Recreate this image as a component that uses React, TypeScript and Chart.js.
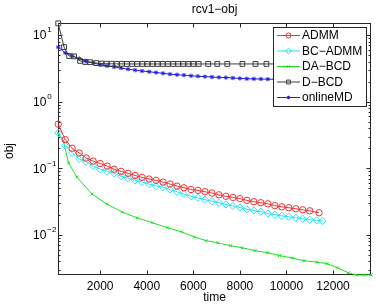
import React, { useEffect, useRef } from 'react';
import { Chart, registerables } from 'chart.js';
import { drawPoint } from 'chart.js/helpers';

Chart.register(...registerables);

// ---- data ----
const seriesNames = ['ADMM', 'BC\u2212ADMM', 'DA\u2212BCD', 'D\u2212BCD', 'onlineMD'];

const admmTime = [200, 500, 800, 1100, 1400, 1700, 2000, 2300, 2600, 2900, 3200, 3500, 3800, 4100, 4400, 4700, 5000, 5300, 5600, 5900, 6200, 6500, 6800, 7100, 7400, 7700, 8000, 8300, 8600, 8900, 9200, 9500, 9800, 10100, 10400, 10700, 11000, 11400];
const admmObj = [0.46, 0.27, 0.2, 0.17, 0.143, 0.128, 0.118, 0.108, 0.097, 0.09, 0.084, 0.078, 0.073, 0.069, 0.066, 0.062, 0.058, 0.054, 0.051, 0.048, 0.0466, 0.0445, 0.0425, 0.04, 0.038, 0.0365, 0.0351, 0.033, 0.0315, 0.0304, 0.0293, 0.0275, 0.0264, 0.0256, 0.0247, 0.0238, 0.023, 0.0215];

const bcAdmmTime = [200, 500, 800, 1100, 1400, 1700, 2000, 2300, 2600, 2900, 3200, 3500, 3800, 4100, 4400, 4700, 5000, 5300, 5600, 5900, 6200, 6500, 6800, 7100, 7400, 7700, 8000, 8300, 8600, 8900, 9200, 9500, 9800, 10100, 10400, 10700, 11000, 11300, 11550];
const bcAdmmObj = [0.34, 0.22, 0.17, 0.138, 0.125, 0.108, 0.097, 0.09, 0.084, 0.076, 0.071, 0.066, 0.062, 0.058, 0.054, 0.052, 0.048, 0.0445, 0.041, 0.038, 0.036, 0.0338, 0.032, 0.0303, 0.0287, 0.0272, 0.0258, 0.0242, 0.0232, 0.0223, 0.0209, 0.0201, 0.0193, 0.0187, 0.0181, 0.0175, 0.0169, 0.0165, 0.0162];

const daBcdTime = [200, 420, 640, 1000, 1650, 2300, 2950, 3600, 4250, 4900, 5500, 6050, 6550, 7050, 7600, 8100, 8650, 9200, 9700, 10250, 10750, 11300, 11750, 12200, 12650, 13000, 13350, 13630];
const daBcdObj = [0.34, 0.26, 0.12, 0.074, 0.041, 0.029, 0.022, 0.018, 0.0152, 0.0128, 0.0111, 0.0093, 0.0082, 0.0076, 0.0069, 0.0064, 0.0058, 0.0054, 0.0049, 0.0045, 0.0041, 0.0039, 0.0037, 0.0032, 0.0027, 0.0025, 0.0025, 0.0025];

const dBcdTime = [200, 450, 670, 880, 1140, 1360, 1570, 1830, 2050, 2270, 2490, 2710, 2930, 3150, 3370, 3590, 3810, 4030, 4250, 4470, 4690, 4910, 5130, 5350, 5570, 5790, 6010, 6230, 6640, 7030, 7460, 8110, 8670, 9140, 9740, 10600, 11500];
const dBcdObj = [15.0, 6.6, 4.85, 4.8, 4.1, 3.95, 3.92, 3.8, 3.74, 3.72, 3.71, 3.7, 3.7, 3.69, 3.69, 3.69, 3.69, 3.69, 3.69, 3.69, 3.69, 3.69, 3.69, 3.69, 3.69, 3.69, 3.69, 3.69, 3.69, 3.69, 3.69, 3.69, 3.69, 3.69, 3.69, 3.69, 3.69];

const onlineMdTime = [200, 500, 800, 1100, 1400, 1700, 2000, 2300, 2600, 2900, 3200, 3500, 3800, 4100, 4400, 4700, 5000, 5300, 5600, 5900, 6200, 6500, 6800, 7100, 7400, 7700, 8000, 8300, 8600, 8900, 9200, 9500, 9800, 10100, 10400, 10700, 11000, 11300];
const onlineMdObj = [6.6, 5.4, 4.85, 4.45, 4.05, 3.82, 3.6, 3.45, 3.33, 3.2, 3.08, 2.98, 2.89, 2.82, 2.74, 2.67, 2.59, 2.54, 2.5, 2.45, 2.41, 2.38, 2.35, 2.32, 2.3, 2.27, 2.24, 2.21, 2.2, 2.19, 2.18, 2.17, 2.15, 2.14, 2.12, 2.11, 2.1, 2.09];

const xTickValues = [2000, 4000, 6000, 8000, 10000, 12000];
const yDecadeExponents = [-2, -1, 0, 1];

const X_MIN = 190;
const X_MAX = 13630;
const Y_MIN = 0.0025;
const Y_MAX = 15.2;

const FONT = '"Liberation Sans", Arial, Helvetica, sans-serif';
const AXIS_COLOR = '#262626';

type SeriesStyle = { color: string; pointStyle: string; radius: number };
const styles: SeriesStyle[] = [
  { color: 'rgb(240,50,50)', pointStyle: 'circle', radius: 3.2 },
  { color: 'rgb(40,225,245)', pointStyle: 'rectRot', radius: 3.6 },
  { color: 'rgb(30,225,30)', pointStyle: 'crossRot', radius: 2 },
  { color: 'rgb(60,60,60)', pointStyle: 'rect', radius: 3.4 },
  { color: 'rgb(30,30,235)', pointStyle: 'star', radius: 2.2 },
];

const seriesData = [
  [admmTime, admmObj],
  [bcAdmmTime, bcAdmmObj],
  [daBcdTime, daBcdObj],
  [dBcdTime, dBcdObj],
  [onlineMdTime, onlineMdObj],
].map(([t, v]) => t.map((x, i) => ({ x, y: v[i] })));

function line(ctx: CanvasRenderingContext2D, x1: number, y1: number, x2: number, y2: number) {
  ctx.beginPath();
  ctx.moveTo(x1, y1);
  ctx.lineTo(x2, y2);
  ctx.stroke();
}

// Box, inward tick marks (MATLAB style) drawn under the data
const axesFrame = {
  id: 'axesFrame',
  beforeDatasetsDraw(chart: any) {
    const { ctx, chartArea: a, scales } = chart;
    const xs = scales.x;
    const ys = scales.y;
    ctx.save();
    ctx.strokeStyle = AXIS_COLOR;
    ctx.lineWidth = 1;
    const L = Math.round(a.left) + 0.5;
    const R = Math.round(a.right) - 0.5;
    const T = Math.round(a.top) + 0.5;
    const B = Math.round(a.bottom) - 0.5;
    ctx.strokeRect(L, T, R - L, B - T);
    for (const t of xTickValues) {
      const px = Math.round(xs.getPixelForValue(t)) + 0.5;
      line(ctx, px, B, px, B - 4);
      line(ctx, px, T, px, T + 4);
    }
    for (let e = -3; e <= 1; e++) {
      for (let m = 1; m <= 9; m++) {
        const v = m * Math.pow(10, e);
        if (v < Y_MIN || v > Y_MAX) continue;
        const py = Math.round(ys.getPixelForValue(v)) + 0.5;
        const len = m === 1 ? 4 : 2;
        line(ctx, L, py, L + len, py);
        line(ctx, R, py, R - len, py);
      }
    }
    ctx.restore();
  },
  afterDraw(chart: any) {
    const { ctx, chartArea: a, scales } = chart;
    const xs = scales.x;
    const ys = scales.y;
    ctx.save();
    ctx.fillStyle = '#000';

    // x tick labels
    ctx.font = `12px ${FONT}`;
    ctx.textAlign = 'center';
    ctx.textBaseline = 'middle';
    for (const t of xTickValues) {
      ctx.fillText(String(t), xs.getPixelForValue(t), a.bottom + 12);
    }

    // y tick labels as 10 with a raised exponent
    for (const e of yDecadeExponents) {
      const py = ys.getPixelForValue(Math.pow(10, e));
      ctx.font = `12px ${FONT}`;
      ctx.textAlign = 'left';
      ctx.textBaseline = 'middle';
      const baseX = a.left - 25;
      ctx.fillText('10', baseX, py + 1);
      const w = ctx.measureText('10').width;
      ctx.font = `8px ${FONT}`;
      ctx.fillText(e < 0 ? '\u2212' + Math.abs(e) : String(e), baseX + w + 1, py - 5);
    }

    // titles
    ctx.font = `12px ${FONT}`;
    ctx.textAlign = 'center';
    ctx.textBaseline = 'middle';
    const cx = (a.left + a.right) / 2;
    ctx.fillText('rcv1\u2212obj', cx, 10);
    ctx.fillText('time', cx, a.bottom + 23);
    ctx.save();
    ctx.translate(10, (a.top + a.bottom) / 2 + 2);
    ctx.rotate(-Math.PI / 2);
    ctx.fillText('obj', 0, 0);
    ctx.restore();

    // legend box inside the plot, upper right
    const lx = a.right - 98;
    const ly = a.top + 4;
    const lw = 93;
    const lh = 79;
    ctx.fillStyle = '#fff';
    ctx.fillRect(lx, ly, lw, lh);
    ctx.strokeStyle = AXIS_COLOR;
    ctx.lineWidth = 1;
    ctx.strokeRect(lx + 0.5, ly + 0.5, lw, lh);
    seriesNames.forEach((name, i) => {
      const s = styles[i];
      const ry = ly + 8.5 + i * 15.5;
      ctx.strokeStyle = s.color;
      ctx.lineWidth = 1;
      line(ctx, lx + 4, ry, lx + 27, ry);
      ctx.fillStyle = 'rgba(0,0,0,0)';
      drawPoint(ctx, { pointStyle: s.pointStyle as any, radius: s.radius * 0.8, rotation: 0, borderWidth: 1 }, lx + 15.5, ry);
      ctx.fillStyle = '#000';
      ctx.font = `12px ${FONT}`;
      ctx.textAlign = 'left';
      ctx.textBaseline = 'middle';
      ctx.fillText(name, lx + 29, ry + 0.5);
    });
    ctx.restore();
  },
};

export default function App() {
  const canvasRef = useRef<HTMLCanvasElement | null>(null);

  useEffect(() => {
    const canvas = canvasRef.current;
    if (!canvas) return;
    const chart = new Chart(canvas, {
      type: 'line',
      data: {
        datasets: seriesData.map((data, i) => ({
          label: seriesNames[i],
          data,
          borderColor: styles[i].color,
          borderWidth: 1,
          pointStyle: styles[i].pointStyle as any,
          pointRadius: styles[i].radius,
          pointBorderColor: styles[i].color,
          pointBackgroundColor: 'rgba(0,0,0,0)',
          pointBorderWidth: 1,
          tension: 0,
          clip: false as any,
        })),
      },
      options: {
        animation: false,
        responsive: false,
        devicePixelRatio: 1,
        layout: { padding: { left: 58, top: 23, right: 5, bottom: 30 } },
        plugins: { legend: { display: false }, tooltip: { enabled: false }, title: { display: false } },
        scales: {
          x: { type: 'linear', min: X_MIN, max: X_MAX, display: false },
          y: { type: 'logarithmic', min: Y_MIN, max: Y_MAX, display: false },
        },
        events: [],
      },
      plugins: [axesFrame],
    });
    return () => chart.destroy();
  }, []);

  return (
    <div style={{ position: 'fixed', left: 0, top: 0, width: 376, height: 305, background: '#fff' }}>
      <canvas ref={canvasRef} width={376} height={305} style={{ display: 'block', width: 376, height: 305 }} />
    </div>
  );
}
